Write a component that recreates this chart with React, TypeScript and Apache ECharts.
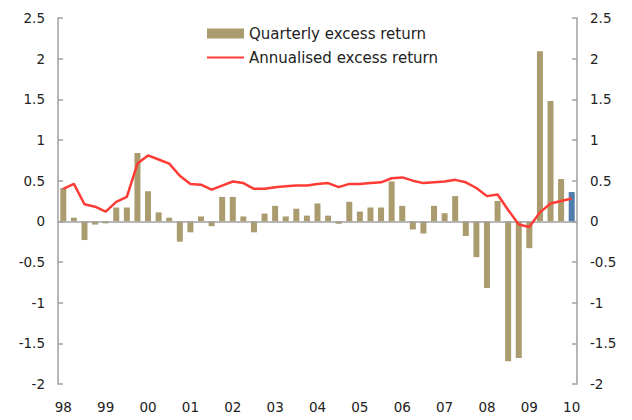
import React, { useEffect, useRef } from "react";
import * as echarts from "echarts";

const yearLabels = ["98", "99", "00", "01", "02", "03", "04", "05", "06", "07", "08", "09", "10"];

const quarterly = [
  0.41, 0.045, -0.23, -0.04, -0.025, 0.17, 0.17, 0.84, 0.37, 0.11,
  0.045, -0.25, -0.135, 0.06, -0.06, 0.3, 0.3, 0.06, -0.135, 0.095,
  0.19, 0.06, 0.155, 0.07, 0.22, 0.07, -0.03, 0.24, 0.12, 0.17,
  0.17, 0.49, 0.19, -0.1, -0.15, 0.19, 0.1, 0.31, -0.18, -0.44,
  -0.82, 0.25, -1.72, -1.68, -0.33, 2.09, 1.48, 0.52, 0.36,
];

const annualised = [
  0.4, 0.46, 0.21, 0.18, 0.12, 0.24, 0.3, 0.71, 0.81, 0.76,
  0.71, 0.56, 0.46, 0.45, 0.39, 0.44, 0.49, 0.47, 0.4, 0.4,
  0.42, 0.43, 0.44, 0.44, 0.46, 0.47, 0.42, 0.46, 0.46, 0.47,
  0.48, 0.53, 0.54, 0.5, 0.47, 0.48, 0.49, 0.51, 0.48, 0.41,
  0.31, 0.33, 0.14, -0.04, -0.07, 0.11, 0.22, 0.25, 0.28,
];

const yTicks = { min: -2, max: 2.5, interval: 0.5 };

const categories: string[] = yearLabels.flatMap((y, i) =>
  i === yearLabels.length - 1 ? [y + "Q1"] : [y + "Q1", y + "Q2", y + "Q3", y + "Q4"]
);

const FONT = "DejaVu Sans";
const BAR = "#aa9c6e";
const LAST = "#4f7cab";
const LINE = "#ff3b35";
const AXIS = "#a0a0a0";
const TEXT = "#222";

export default function App() {
  const ref = useRef<HTMLDivElement>(null);
  useEffect(() => {
    if (!ref.current) return;
    const chart = echarts.init(ref.current, undefined, { renderer: "svg" });
    const yAxisCommon = {
      type: "value",
      min: yTicks.min,
      max: yTicks.max,
      interval: yTicks.interval,
      splitLine: { show: false },
      axisLine: { show: true, lineStyle: { color: AXIS, width: 1.5 } },
      axisTick: { show: true, inside: true, length: 5, lineStyle: { color: AXIS, width: 1.5 } },
      axisLabel: {
        color: TEXT,
        fontFamily: FONT,
        fontSize: 13.5,
        margin: 13,
        formatter: (v: number) => String(Math.round(v * 10) / 10),
      },
    };
    chart.setOption({
      animation: false,
      backgroundColor: "#fff",
      grid: { left: 58, right: 55, top: 18, bottom: 36 },
      legend: {
        orient: "vertical",
        left: 201,
        top: 21,
        itemWidth: 37,
        itemHeight: 10,
        itemGap: 9,
        textStyle: { color: TEXT, fontFamily: FONT, fontSize: 15 },
        data: [
          { name: "Quarterly excess return", icon: "rect" },
          { name: "Annualised excess return", itemStyle: { opacity: 0 } },
        ],
      },
      xAxis: {
        type: "category",
        data: categories,
        boundaryGap: true,
        axisLine: { show: false, onZero: false },
        axisTick: { show: false },
        axisLabel: {
          interval: 3,
          color: TEXT,
          fontFamily: FONT,
          fontSize: 13.5,
          margin: 16,
          formatter: (v: string) => v.slice(0, 2),
        },
        splitLine: { show: false },
      },
      yAxis: [
        { ...yAxisCommon, position: "left" },
        { ...yAxisCommon, position: "right" },
      ],
      series: [
        {
          name: "Quarterly excess return",
          type: "bar",
          barWidth: 6,
          itemStyle: { color: BAR },
          data: quarterly.map((v, i) =>
            i === quarterly.length - 1 ? { value: v, itemStyle: { color: LAST } } : v
          ),
          markLine: {
            silent: true,
            symbol: "none",
            label: { show: false },
            lineStyle: { color: AXIS, width: 1.5, type: "solid" },
            data: [{ yAxis: 0 }],
          },
        },
        {
          name: "Annualised excess return",
          type: "line",
          symbol: "none",
          showSymbol: false,
          lineStyle: { color: LINE, width: 2.5 },
          itemStyle: { color: LINE },
          data: annualised,
          z: 5,
        },
      ],
    });
    return () => chart.dispose();
  }, []);
  return (
    <div
      ref={ref}
      style={{ position: "fixed", left: 0, top: 0, width: 632, height: 420 }}
    />
  );
}
